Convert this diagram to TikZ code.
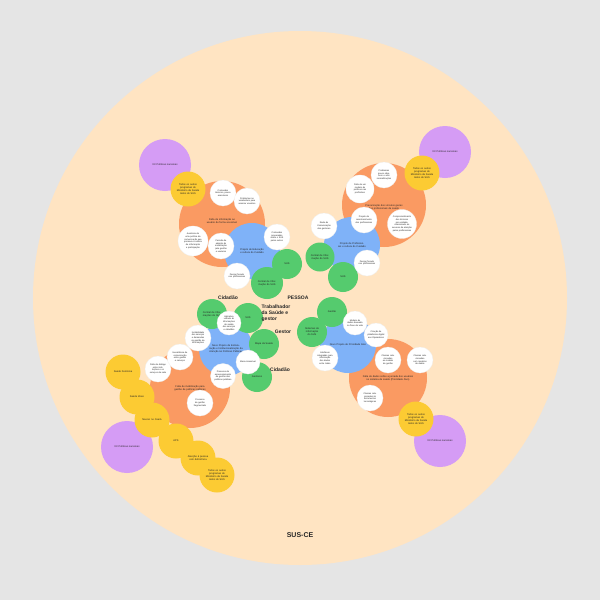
\documentclass[tikz,border=0pt]{standalone}
\usepackage{fontspec}
\setmainfont{Liberation Sans}
\definecolor{bgc}{HTML}{E5E5E5}
\definecolor{peach}{HTML}{FFE4C2}
\definecolor{purpc}{HTML}{D59CF5}
\definecolor{yelc}{HTML}{FCCB33}
\definecolor{orac}{HTML}{FA9A62}
\definecolor{bluc}{HTML}{7FB2F8}
\definecolor{grec}{HTML}{55CB6E}
\tikzset{
 base/.style={circle, inner sep=0pt, align=center, text=black!85, font=\fontsize{2.5}{3}\selectfont},
 purp/.style={base, fill=purpc, minimum size=52, text width=36},
 yel/.style={base, fill=yelc, minimum size=35, text width=24},
 ora/.style={base, fill=orac, text width=52},
 blu/.style={base, fill=bluc, minimum size=56, text width=42},
 gre/.style={base, fill=grec, minimum size=30, text width=20},
 whi/.style={base, fill=white, draw=black!6, line width=0.3pt, minimum size=26, text width=17, font=\fontsize{2.2}{2.7}\selectfont},
 lbl/.style={font=\bfseries\fontsize{5}{5.8}\selectfont, align=left, text=black!85},
}
\begin{document}
\begin{tikzpicture}[x=1pt,y=-1pt]
\useasboundingbox (0,0) rectangle (600,600);
\fill[bgc] (0,0) rectangle (600,600);
\node[circle, fill=peach, minimum size=534, inner sep=0pt] (sus) at (300,298) {};
\node[font=\bfseries\fontsize{7}{8}\selectfont, text=black!85] (suslbl) at (300,535) {SUS-CE};

% ---------- top-left ----------
\node[purp] (p1) at (165,165) {XX Políticas nacionais};
\node[ora, minimum size=86] (o1) at (222,224) {\\[-6pt]Falta de informação ao usuário de forma acessível};
\node[yel] (y1) at (188,189) {Todos os outros programas do Ministério da Saúde todos do SUS};
\node[blu] (b1) at (252,251) {Projeto de Educação e cultura do Cuidado};
\node[gre] (g1a) at (287,264) {SUS};
\node[gre, minimum size=32] (g1b) at (267,283) {Central de Informação do SUS};
\node[whi] (w1a) at (223,193) {Conteúdos técnicos, pouco acessíveis};
\node[whi] (w1b) at (247,201) {Problemas no vocabulário para acessar usuários};
\node[whi, minimum size=30, text width=20] (w1c) at (193,241) {Ausência de uma política de comunicação que promova a cultura de informação e participação};
\node[whi] (w1d) at (221,246) {Período de adesão de mobilização pela gestão e usuários};
\node[whi] (w1e) at (277,237) {Conteúdos preparados sobre o SUS pelos outros};
\node[whi] (w1f) at (237,276) {Design focado nos profissionais};

% ---------- top-right ----------
\node[purp] (p2) at (445,152) {XX Políticas nacionais};
\node[ora, minimum size=84] (o2) at (384,205) {\\[4pt]Precarização dos vínculos gerais dos profissionais da saúde};
\node[yel] (y2) at (422,173) {Todos os outros programas do Ministério da Saúde todos do SUS};
\node[blu] (b2) at (352,245) {Projeto de Profissionais e cultura do Cuidado};
\node[gre, minimum size=29] (g2a) at (320,257) {Central de Informação do SUS};
\node[gre] (g2b) at (343,277) {SUS};
\node[whi] (w2a) at (384,175) {Problemas pouco objetivos e sem normatizações};
\node[whi, minimum size=28] (w2b) at (360,189) {Falta de um modelo de políticas nas profissões};
\node[whi] (w2c) at (364,220) {Projeto de reconhecimento dos profissionais};
\node[whi, minimum size=29, text width=20] (w2d) at (402,224) {Comprometimento dos técnicos por unidade, relacionado ao sucesso da atenção pelos profissionais};
\node[whi] (w2e) at (324,226) {Rede de Comunicação dos gestores};
\node[whi] (w2f) at (367,263) {Design focado nos profissionais};

% ---------- bottom-left ----------
\node[purp] (p3) at (127,447) {XX Políticas nacionais};
\node[ora, minimum size=80] (o3) at (190,388) {\\[0pt]Falta de mobilização para gestão de políticas públicas};
\node[yel] (y3a) at (123,372) {Saúde Feminina};
\node[yel] (y3b) at (137,397) {Saúde Idoso};
\node[yel] (y3c) at (152,420) {Nascer no Ceará};
\node[yel] (y3d) at (176,441) {APS};
\node[yel] (y3e) at (198,458) {Atenção à pessoa com deficiência};
\node[yel] (y3f) at (217,475) {Todos os outros programas do Ministério da Saúde todos do SUS};
\node[blu, minimum size=54] (b3) at (226,349) {Novo Projeto de Estruturação e Institucionalização da Atenção às Políticas Públicas};
\node[gre] (g3a) at (212,314) {Central de Informações do SUS};
\node[gre] (g3b) at (248,318) {SUS};
\node[gre] (g3c) at (264,344) {Mapa da Saúde};
\node[gre] (g3d) at (257,377) {Gestores};
\node[whi, minimum size=24] (w3a) at (229,323) {Aplicativo voltado às informações de saúde dos serviços e cidadãos};
\node[whi] (w3b) at (198,338) {Instabilidade dos serviços e demandas na gestão de informações};
\node[whi, minimum size=24] (w3c) at (248,362) {Mesa Acessível};
\node[whi, minimum size=25] (w3d) at (223,376) {Processo de assessoramento da gestão das políticas públicas};
\node[whi] (w3e) at (158,369) {Falta de diálogo entre instituições e os serviços da rede};
\node[whi] (w3f) at (180,357) {Inexistência de comunicação entre gestão e serviços};
\node[whi] (w3g) at (200,403) {Processo de gestão fragmentado};

% ---------- bottom-right ----------
\node[purp] (p4) at (440,441) {XX Políticas nacionais};
\node[ora, minimum size=78] (o4) at (388,378) {Falta de dados sobre a jornada dos usuários no sistema de saúde (Prioridade Alvo)};
\node[yel] (y4) at (416,419) {Todos os outros programas do Ministério da Saúde todos do SUS};
\node[blu] (b4) at (348,345) {Novo Projeto de Prioridade Alvo};
\node[gre] (g4a) at (332,312) {Gestão};
\node[gre] (g4b) at (312,332) {Sistemas de informação do SUS};
\node[whi, minimum size=24] (w4a) at (355,323) {Modelo de dados baseado no fluxo de vida};
\node[whi, minimum size=24] (w4b) at (376,335) {Criação de plataforma digital aos Operadores};
\node[whi] (w4c) at (325,358) {Interfaces integradas para informação dos dados entre todos};
\node[whi] (w4d) at (388,360) {Classes relacionadas ao modelo de gestão};
\node[whi] (w4e) at (420,360) {Classes relacionadas com modelos de dados};
\node[whi] (w4f) at (370,398) {Classes relacionadas às ferramentas tecnológicas};

% ---------- labels ----------
\node[lbl] (lpessoa) at (298,298) {PESSOA};
\node[lbl] (lcid1) at (228,298) {Cidadão};
\node[lbl] (ltrab) at (276,313) {Trabalhador\\da Saúde e\\gestor};
\node[lbl] (lgest) at (283,332) {Gestor};
\node[lbl] (lcid2) at (280,370) {Cidadão};
\end{tikzpicture}
\end{document}
